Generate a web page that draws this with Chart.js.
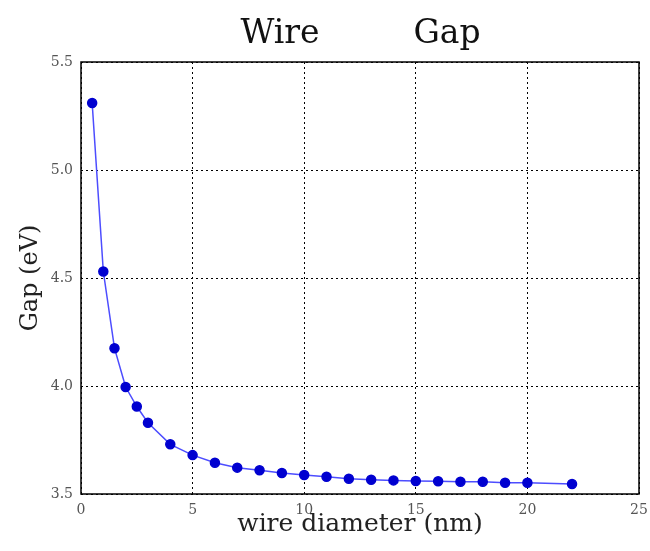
<!DOCTYPE html>
<html>
<head>
<meta charset="utf-8">
<script src="https://cdn.jsdelivr.net/npm/chart.js@4/dist/chart.umd.min.js"></script>
<style>
  html, body { margin: 0; padding: 0; background: #fff; }
  #wrap { width: 650px; height: 551px; }
</style>
</head>
<body>
<div id="wrap"><canvas id="gapChart" width="650" height="551"></canvas></div>
<script>
// wire diameter (nm) and band gap (eV)
const diameters = [0.5, 1, 1.5, 2, 2.5, 3, 4, 5, 6, 7, 8, 9, 10, 11, 12, 13, 14, 15, 16, 17, 18, 19, 20, 22];
const gaps = [5.31, 4.53, 4.175, 3.995, 3.905, 3.83, 3.73, 3.68, 3.645, 3.622, 3.61, 3.597, 3.588, 3.58, 3.571, 3.566, 3.563, 3.56, 3.559, 3.557, 3.557, 3.552, 3.552, 3.546];
const titleWords = ['Wire', 'Gap'];

const serif = '"DejaVu Serif", "Liberation Serif", serif';

// box around the plot + the split title
const frame = {
    id: 'frame',
    afterDraw(chart) {
        const a = chart.chartArea;
        const ctx = chart.ctx;
        ctx.save();
        ctx.strokeStyle = '#000';
        ctx.lineWidth = 1.5;
        ctx.strokeRect(a.left, a.top, a.right - a.left, a.bottom - a.top);
        ctx.fillStyle = '#111';
        ctx.font = '33px ' + serif;
        ctx.textAlign = 'center';
        ctx.textBaseline = 'middle';
        ctx.fillText(titleWords[0], 280, 34);
        ctx.fillText(titleWords[1], 447, 34);
        ctx.restore();
    }
};

const ctx = document.getElementById('gapChart').getContext('2d');
new Chart(ctx, {
    type: 'line',
    data: {
        datasets: [{
            data: diameters.map((d, i) => ({ x: d, y: gaps[i] })),
            borderColor: '#4d4dff',
            borderWidth: 1.5,
            backgroundColor: '#0000d0',
            pointBackgroundColor: '#0000d0',
            pointBorderColor: '#0000d0',
            pointRadius: 4.5,
            tension: 0,
            fill: false
        }]
    },
    options: {
        responsive: false,
        animation: false,
        layout: { autoPadding: false, padding: { top: 62, right: 11, bottom: 10, left: 0 } },
        plugins: { legend: { display: false }, tooltip: { enabled: false } },
        scales: {
            x: {
                type: 'linear',
                min: 0,
                max: 25,
                afterFit(s) { s.height = 47; s.paddingLeft = 0; s.paddingRight = 0; },
                ticks: { stepSize: 5, padding: 8, color: '#555', font: { family: serif, size: 14 } },
                grid: { color: '#000', lineWidth: 1, drawTicks: false },
                border: { display: false, dash: [2, 3] },
                title: { display: true, text: 'wire diameter (nm)', color: '#222', font: { family: serif, size: 25 }, padding: { top: 0, bottom: 2 } }
            },
            y: {
                min: 3.5,
                max: 5.5,
                afterFit(s) { s.width = 81; },
                ticks: { stepSize: 0.5, padding: 8, color: '#555', font: { family: serif, size: 14 },
                    callback: v => v.toFixed(1) },
                grid: { color: '#000', lineWidth: 1, drawTicks: false },
                border: { display: false, dash: [2, 3] },
                title: { display: true, text: 'Gap (eV)', color: '#222', font: { family: serif, size: 24 }, padding: { top: 16, bottom: 0 } }
            }
        }
    },
    plugins: [frame]
});
</script>
</body>
</html>
